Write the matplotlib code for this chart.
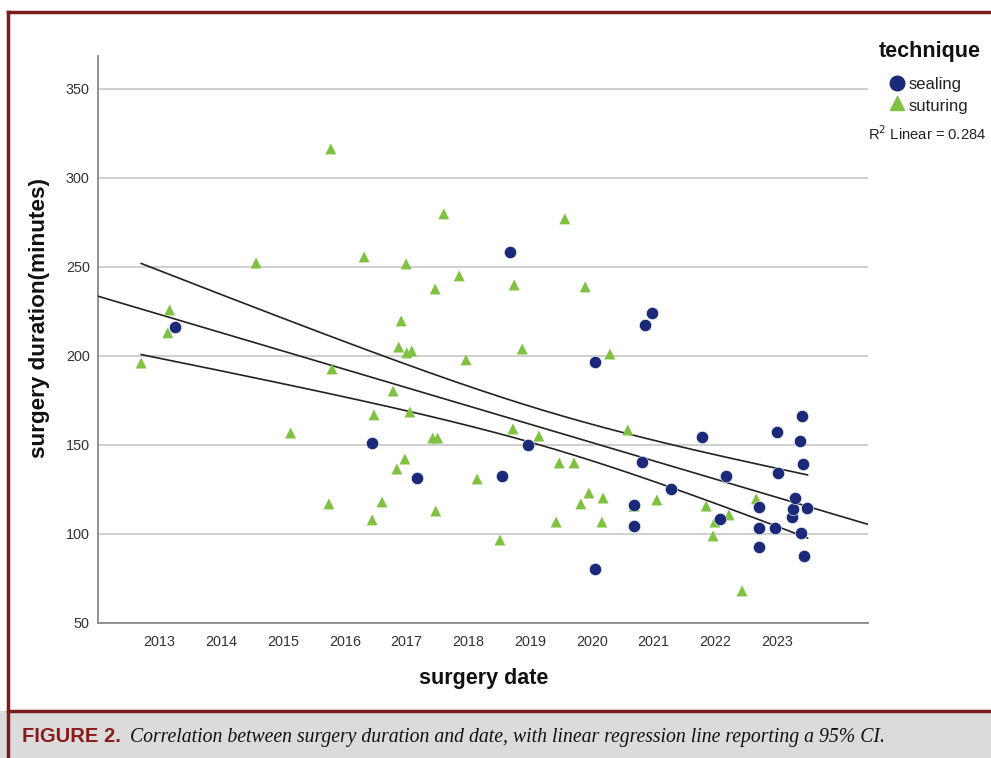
import numpy as np
import matplotlib
matplotlib.use("Agg")
import matplotlib.pyplot as plt
from matplotlib.lines import Line2D
from matplotlib.patches import Rectangle

plt.rcParams['font.family'] = ['Liberation Sans', 'DejaVu Sans']

# ---------------- data ----------------
sealing_year = [2013.24, 2016.44, 2017.17, 2018.54, 2018.67, 2018.96, 2020.05, 2020.05,
                2020.68, 2020.68, 2020.81, 2020.86, 2020.97, 2021.28, 2021.78, 2022.08,
                2022.17, 2022.71, 2022.71, 2022.71, 2022.97, 2023.00, 2023.02, 2023.24,
                2023.26, 2023.29, 2023.37, 2023.39, 2023.40, 2023.42, 2023.44, 2023.49]
sealing_min = [216.3, 151.1, 131.5, 132.6, 258.4, 150.0, 196.6, 80.3,
               116.3, 104.5, 140.4, 217.4, 224.2, 125.3, 154.5, 108.4,
               132.6, 115.2, 103.4, 92.7, 103.4, 157.3, 134.3, 109.6,
               114.0, 120.2, 152.2, 100.6, 166.3, 139.3, 87.6, 114.6]

suturing_year = [2012.70, 2013.13, 2013.16, 2014.56, 2015.12, 2015.74, 2015.77, 2015.79,
                 2016.31, 2016.44, 2016.47, 2016.60, 2016.78, 2016.84, 2016.87, 2016.91,
                 2016.97, 2016.99, 2017.00, 2017.05, 2017.08, 2017.42, 2017.50, 2017.46,
                 2017.47, 2017.60, 2017.85, 2017.96, 2018.14, 2018.51, 2018.72, 2018.74,
                 2018.87, 2019.14, 2019.42, 2019.47, 2019.56, 2019.71, 2019.82, 2019.89,
                 2019.95, 2020.16, 2020.18, 2020.29, 2020.58, 2020.68, 2021.05, 2021.85,
                 2021.96, 2021.99, 2022.22, 2022.43, 2022.66]
suturing_min = [196.0, 213.0, 225.8, 252.2, 156.7, 116.9, 316.3, 192.7,
                255.6, 107.9, 166.9, 118.0, 180.3, 136.5, 205.0, 219.7,
                142.1, 251.7, 201.7, 168.5, 202.8, 153.9, 153.9, 237.6,
                112.9, 279.8, 245.0, 197.8, 130.9, 96.6, 159.0, 239.9,
                203.9, 155.0, 106.7, 139.9, 277.0, 139.9, 116.9, 238.8,
                123.0, 106.7, 120.2, 201.1, 158.4, 115.5, 119.1, 115.7,
                98.9, 106.7, 110.7, 68.0, 119.7]

x_ticks = [2013, 2014, 2015, 2016, 2017, 2018, 2019, 2020, 2021, 2022, 2023]
y_ticks = [50, 100, 150, 200, 250, 300, 350]
r2_label = "0.284"

# ---------------- styling ----------------
W, H = 991, 758
NAVY = '#1b2a78'
GREEN = '#7fc242'
RED = '#7b1c1c'

fig = plt.figure(figsize=(W / 100, H / 100), dpi=100)
fig.patch.set_facecolor('white')

def fx(px):
    return px / W

def fy(py):
    return 1 - py / H

ax = fig.add_axes([fx(98), fy(623), fx(868) - fx(98), fy(56) - fy(623)])
ax.set_xlim(2012.0, 2024.47)
ax.set_ylim(50, 368.5)
ax.set_yticks(y_ticks)
ax.set_xticks(x_ticks)
ax.set_xticklabels([str(t) for t in x_ticks])
ax.tick_params(axis='both', length=0, labelsize=10.4, labelcolor='#333333')
ax.tick_params(axis='y', pad=6)
ax.tick_params(axis='x', pad=9)
for s in ['top', 'right']:
    ax.spines[s].set_visible(False)
for s in ['left', 'bottom']:
    ax.spines[s].set_color('#8a8a8a')
    ax.spines[s].set_linewidth(1.3)
ax.grid(axis='y', color='#cccccc', linewidth=1.3)
ax.set_axisbelow(True)

# regression with 95% CI of the mean
x_all = np.array(sealing_year + suturing_year)
y_all = np.array(sealing_min + suturing_min)
n = len(x_all)
slope, intercept = np.polyfit(x_all, y_all, 1)
resid = y_all - (intercept + slope * x_all)
s_err = np.sqrt(np.sum(resid ** 2) / (n - 2))
xbar = x_all.mean()
sxx = np.sum((x_all - xbar) ** 2)
t_val = 1.987
xl = np.linspace(2012.0, 2024.47, 50)
ax.plot(xl, intercept + slope * xl, color='#222222', lw=1.2, zorder=3)
xc = np.linspace(x_all.min(), x_all.max(), 200)
half = t_val * s_err * np.sqrt(1 / n + (xc - xbar) ** 2 / sxx)
ax.plot(xc, intercept + slope * xc + half, color='#222222', lw=1.2, zorder=3)
ax.plot(xc, intercept + slope * xc - half, color='#222222', lw=1.2, zorder=3)

ax.scatter(suturing_year, suturing_min, marker='^', s=62, color=GREEN,
           edgecolors='none', zorder=4)
ax.scatter(sealing_year, sealing_min, marker='o', s=78, color=NAVY,
           edgecolors='white', linewidths=0.4, zorder=5)

# axis labels
fig.text(fx(484), fy(684), 'surgery date', ha='center', va='baseline',
         fontsize=15.5, fontweight='bold', color='#111111')
fig.text(fx(40), fy(318), 'surgery duration(minutes)', ha='center', va='center',
         rotation=90, fontsize=16.2, fontweight='bold', color='#111111')

# legend (outside, right)
fig.text(fx(930), fy(57), 'technique', ha='center', va='baseline',
         fontsize=15.5, fontweight='bold', color='#111111')
fig.add_artist(Line2D([fx(897)], [fy(83)], marker='o', markersize=10.5,
                      color=NAVY, linestyle='none', transform=fig.transFigure))
fig.text(fx(909), fy(89), 'sealing', ha='left', va='baseline',
         fontsize=12, color='#222222')
fig.add_artist(Line2D([fx(897)], [fy(103)], marker='^', markersize=10,
                      color=GREEN, linestyle='none', transform=fig.transFigure))
fig.text(fx(909), fy(111), 'suturing', ha='left', va='baseline',
         fontsize=12, color='#222222')
fig.text(fx(868), fy(140), r'R$^2$ Linear = ' + r2_label, ha='left', va='baseline',
         fontsize=10.6, color='#222222')

# frame and caption band
fig.add_artist(Rectangle((0, 0), 1, fy(711), transform=fig.transFigure,
                         facecolor='#dcdbdb', edgecolor='none', zorder=0))
fig.add_artist(Line2D([fx(8), 1], [fy(711), fy(711)], color=RED, lw=2.5,
                      transform=fig.transFigure))
fig.add_artist(Line2D([fx(8), 1], [fy(12), fy(12)], color=RED, lw=2.5,
                      transform=fig.transFigure))
fig.add_artist(Line2D([fx(8), fx(8)], [0, fy(12)], color=RED, lw=2.5,
                      transform=fig.transFigure))

fig.text(fx(22), fy(742), 'FIGURE 2.', ha='left', va='baseline', fontsize=14.5,
         fontweight='bold', color='#8b1a1a')
fig.text(fx(130), fy(742),
         'Correlation between surgery duration and date, with linear regression line reporting a 95% CI.',
         ha='left', va='baseline', fontsize=14.2, style='italic', color='#111111',
         family=['Liberation Serif', 'DejaVu Serif'])

fig.savefig('out.png', dpi=100)
